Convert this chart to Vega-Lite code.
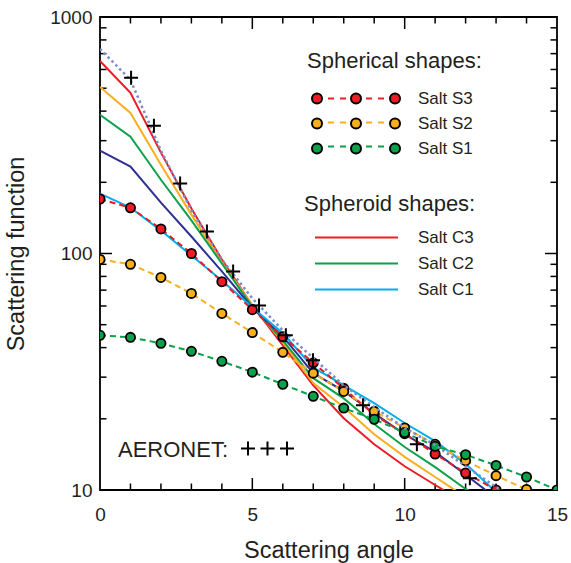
{
  "$schema": "https://vega.github.io/schema/vega-lite/v6.json",
  "width": 457,
  "height": 473,
  "autosize": "none",
  "padding": {"left": 100, "top": 17, "right": 14, "bottom": 73},
  "background": "white",
  "config": {
    "view": {"stroke": "black", "strokeWidth": 1.8},
    "font": "Liberation Sans",
    "axis": {
      "domain": false, "ticks": false, "grid": false,
      "labelOverlap": false, "labelFlush": false,
      "labelFont": "Liberation Sans", "labelFontSize": 19, "labelColor": "#231f20",
      "titleFont": "Liberation Sans", "titleFontSize": 23.5, "titleFontWeight": "normal", "titleColor": "#231f20"
    },
    "legend": {
      "titleFont": "Liberation Sans", "titleFontSize": 22, "titleFontWeight": "normal", "titleColor": "#231f20", "titleLimit": 400,
      "labelFont": "Liberation Sans", "labelFontSize": 17, "labelColor": "#231f20", "labelLimit": 300
    }
  },
  "datasets": {
    "xticks": [
      {"x": 1, "y": 10, "kind": "minor"}, {"x": 2, "y": 10, "kind": "minor"}, {"x": 3, "y": 10, "kind": "minor"}, {"x": 4, "y": 10, "kind": "minor"}, {"x": 5, "y": 10, "kind": "major"}, {"x": 6, "y": 10, "kind": "minor"}, {"x": 7, "y": 10, "kind": "minor"}, {"x": 8, "y": 10, "kind": "minor"}, {"x": 9, "y": 10, "kind": "minor"}, {"x": 10, "y": 10, "kind": "major"}, {"x": 11, "y": 10, "kind": "minor"}, {"x": 12, "y": 10, "kind": "minor"}, {"x": 13, "y": 10, "kind": "minor"}, {"x": 14, "y": 10, "kind": "minor"},
      {"x": 1, "y": 1000, "kind": "minor"}, {"x": 2, "y": 1000, "kind": "minor"}, {"x": 3, "y": 1000, "kind": "minor"}, {"x": 4, "y": 1000, "kind": "minor"}, {"x": 5, "y": 1000, "kind": "major"}, {"x": 6, "y": 1000, "kind": "minor"}, {"x": 7, "y": 1000, "kind": "minor"}, {"x": 8, "y": 1000, "kind": "minor"}, {"x": 9, "y": 1000, "kind": "minor"}, {"x": 10, "y": 1000, "kind": "major"}, {"x": 11, "y": 1000, "kind": "minor"}, {"x": 12, "y": 1000, "kind": "minor"}, {"x": 13, "y": 1000, "kind": "minor"}, {"x": 14, "y": 1000, "kind": "minor"}
    ],
    "yticks": [
      {"x": 0, "y": 20, "kind": "minor"}, {"x": 0, "y": 30, "kind": "minor"}, {"x": 0, "y": 40, "kind": "minor"}, {"x": 0, "y": 50, "kind": "minor"}, {"x": 0, "y": 60, "kind": "minor"}, {"x": 0, "y": 70, "kind": "minor"}, {"x": 0, "y": 80, "kind": "minor"}, {"x": 0, "y": 90, "kind": "minor"}, {"x": 0, "y": 100, "kind": "major"}, {"x": 0, "y": 200, "kind": "minor"}, {"x": 0, "y": 300, "kind": "minor"}, {"x": 0, "y": 400, "kind": "minor"}, {"x": 0, "y": 500, "kind": "minor"}, {"x": 0, "y": 600, "kind": "minor"}, {"x": 0, "y": 700, "kind": "minor"}, {"x": 0, "y": 800, "kind": "minor"}, {"x": 0, "y": 900, "kind": "minor"},
      {"x": 15, "y": 20, "kind": "minor"}, {"x": 15, "y": 30, "kind": "minor"}, {"x": 15, "y": 40, "kind": "minor"}, {"x": 15, "y": 50, "kind": "minor"}, {"x": 15, "y": 60, "kind": "minor"}, {"x": 15, "y": 70, "kind": "minor"}, {"x": 15, "y": 80, "kind": "minor"}, {"x": 15, "y": 90, "kind": "minor"}, {"x": 15, "y": 100, "kind": "major"}, {"x": 15, "y": 200, "kind": "minor"}, {"x": 15, "y": 300, "kind": "minor"}, {"x": 15, "y": 400, "kind": "minor"}, {"x": 15, "y": 500, "kind": "minor"}, {"x": 15, "y": 600, "kind": "minor"}, {"x": 15, "y": 700, "kind": "minor"}, {"x": 15, "y": 800, "kind": "minor"}, {"x": 15, "y": 900, "kind": "minor"}
    ],
    "spheroid": [
      {"k": "Salt C3", "x": 0, "y": 652}, {"k": "Salt C3", "x": 1, "y": 478}, {"k": "Salt C3", "x": 2, "y": 267}, {"k": "Salt C3", "x": 3, "y": 155}, {"k": "Salt C3", "x": 4, "y": 94.3}, {"k": "Salt C3", "x": 5, "y": 60.3}, {"k": "Salt C3", "x": 6, "y": 40.9}, {"k": "Salt C3", "x": 7, "y": 27.7}, {"k": "Salt C3", "x": 8, "y": 20.1}, {"k": "Salt C3", "x": 9, "y": 15.6}, {"k": "Salt C3", "x": 10, "y": 12.6}, {"k": "Salt C3", "x": 11, "y": 10.5}, {"k": "Salt C3", "x": 12, "y": 8.8},
      {"k": "Salt C2.5", "x": 0, "y": 506}, {"k": "Salt C2.5", "x": 1, "y": 393}, {"k": "Salt C2.5", "x": 2, "y": 237.5}, {"k": "Salt C2.5", "x": 3, "y": 146}, {"k": "Salt C2.5", "x": 4, "y": 91.6}, {"k": "Salt C2.5", "x": 5, "y": 60.5}, {"k": "Salt C2.5", "x": 6, "y": 42.1}, {"k": "Salt C2.5", "x": 7, "y": 28.3}, {"k": "Salt C2.5", "x": 8, "y": 22.4}, {"k": "Salt C2.5", "x": 9, "y": 17.2}, {"k": "Salt C2.5", "x": 10, "y": 13.8}, {"k": "Salt C2.5", "x": 11, "y": 11.35}, {"k": "Salt C2.5", "x": 12, "y": 9.34},
      {"k": "Salt C2", "x": 0, "y": 386}, {"k": "Salt C2", "x": 1, "y": 312}, {"k": "Salt C2", "x": 2, "y": 205}, {"k": "Salt C2", "x": 3, "y": 138}, {"k": "Salt C2", "x": 4, "y": 90.7}, {"k": "Salt C2", "x": 5, "y": 59.5}, {"k": "Salt C2", "x": 6, "y": 42.9}, {"k": "Salt C2", "x": 7, "y": 29.7}, {"k": "Salt C2", "x": 8, "y": 24.4}, {"k": "Salt C2", "x": 9, "y": 19.0}, {"k": "Salt C2", "x": 10, "y": 15.2}, {"k": "Salt C2", "x": 11, "y": 12.5}, {"k": "Salt C2", "x": 12, "y": 10.1}, {"k": "Salt C2", "x": 13, "y": 8.6},
      {"k": "Salt C1.5", "x": 0, "y": 272}, {"k": "Salt C1.5", "x": 1, "y": 233}, {"k": "Salt C1.5", "x": 2, "y": 164}, {"k": "Salt C1.5", "x": 3, "y": 118}, {"k": "Salt C1.5", "x": 4, "y": 84}, {"k": "Salt C1.5", "x": 5, "y": 59}, {"k": "Salt C1.5", "x": 6, "y": 44.6}, {"k": "Salt C1.5", "x": 7, "y": 31.2}, {"k": "Salt C1.5", "x": 8, "y": 26.2}, {"k": "Salt C1.5", "x": 9, "y": 21.1}, {"k": "Salt C1.5", "x": 10, "y": 17.2}, {"k": "Salt C1.5", "x": 11, "y": 14.5}, {"k": "Salt C1.5", "x": 12, "y": 11.6}, {"k": "Salt C1.5", "x": 13, "y": 9.25},
      {"k": "Salt C1", "x": 0, "y": 179}, {"k": "Salt C1", "x": 1, "y": 156.4}, {"k": "Salt C1", "x": 2, "y": 125}, {"k": "Salt C1", "x": 3, "y": 98.1}, {"k": "Salt C1", "x": 4, "y": 76.9}, {"k": "Salt C1", "x": 5, "y": 59.2}, {"k": "Salt C1", "x": 6, "y": 46}, {"k": "Salt C1", "x": 7, "y": 33}, {"k": "Salt C1", "x": 8, "y": 27.7}, {"k": "Salt C1", "x": 9, "y": 23.3}, {"k": "Salt C1", "x": 10, "y": 19.2}, {"k": "Salt C1", "x": 11, "y": 16.1}, {"k": "Salt C1", "x": 12, "y": 12.9}, {"k": "Salt C1", "x": 13, "y": 9.8}, {"k": "Salt C1", "x": 14, "y": 7.8}
    ],
    "spherical": [
      {"k": "Salt S3", "x": 0, "y": 170}, {"k": "Salt S3", "x": 1, "y": 156}, {"k": "Salt S3", "x": 2, "y": 127}, {"k": "Salt S3", "x": 3, "y": 100}, {"k": "Salt S3", "x": 4, "y": 76}, {"k": "Salt S3", "x": 5, "y": 57.9}, {"k": "Salt S3", "x": 6, "y": 44.5}, {"k": "Salt S3", "x": 7, "y": 34.5}, {"k": "Salt S3", "x": 8, "y": 26.9}, {"k": "Salt S3", "x": 9, "y": 20.8}, {"k": "Salt S3", "x": 10, "y": 17.3}, {"k": "Salt S3", "x": 11, "y": 14.2}, {"k": "Salt S3", "x": 12, "y": 11.8}, {"k": "Salt S3", "x": 13, "y": 10.0}, {"k": "Salt S3", "x": 14, "y": 8.6}, {"k": "Salt S3", "x": 15, "y": 7.5},
      {"k": "Salt S2", "x": 0, "y": 94.4}, {"k": "Salt S2", "x": 1, "y": 90}, {"k": "Salt S2", "x": 2, "y": 79.2}, {"k": "Salt S2", "x": 3, "y": 67.8}, {"k": "Salt S2", "x": 4, "y": 55.8}, {"k": "Salt S2", "x": 5, "y": 46.3}, {"k": "Salt S2", "x": 6, "y": 38.2}, {"k": "Salt S2", "x": 7, "y": 31.2}, {"k": "Salt S2", "x": 8, "y": 26.1}, {"k": "Salt S2", "x": 9, "y": 21.5}, {"k": "Salt S2", "x": 10, "y": 18.3}, {"k": "Salt S2", "x": 11, "y": 15.6}, {"k": "Salt S2", "x": 12, "y": 13.3}, {"k": "Salt S2", "x": 13, "y": 11.5}, {"k": "Salt S2", "x": 14, "y": 10.05}, {"k": "Salt S2", "x": 15, "y": 8.9},
      {"k": "Salt S1", "x": 0, "y": 45.1}, {"k": "Salt S1", "x": 1, "y": 44.2}, {"k": "Salt S1", "x": 2, "y": 41.7}, {"k": "Salt S1", "x": 3, "y": 38.6}, {"k": "Salt S1", "x": 4, "y": 35.0}, {"k": "Salt S1", "x": 5, "y": 31.5}, {"k": "Salt S1", "x": 6, "y": 28.0}, {"k": "Salt S1", "x": 7, "y": 24.9}, {"k": "Salt S1", "x": 8, "y": 22.2}, {"k": "Salt S1", "x": 9, "y": 19.9}, {"k": "Salt S1", "x": 10, "y": 17.5}, {"k": "Salt S1", "x": 11, "y": 15.3}, {"k": "Salt S1", "x": 12, "y": 14.1}, {"k": "Salt S1", "x": 13, "y": 12.7}, {"k": "Salt S1", "x": 14, "y": 11.35}, {"k": "Salt S1", "x": 15, "y": 10.0}
    ],
    "aeroline": [
      {"x": 0, "y": 733}, {"x": 1, "y": 542}, {"x": 2, "y": 272}, {"x": 3, "y": 152}, {"x": 4, "y": 94.3}, {"x": 5, "y": 64.6}, {"x": 6, "y": 47.3}, {"x": 7, "y": 36.1}, {"x": 8, "y": 27.7}, {"x": 9, "y": 22.4}, {"x": 10, "y": 18.3}, {"x": 11, "y": 15.5}, {"x": 12, "y": 12.6}, {"x": 13, "y": 10.3}, {"x": 14, "y": 8.5}
    ],
    "aeronet": [
      {"src": "AERONET", "x": 1.02, "y": 553}, {"src": "AERONET", "x": 1.77, "y": 347}, {"src": "AERONET", "x": 2.63, "y": 197.5}, {"src": "AERONET", "x": 3.51, "y": 123.8}, {"src": "AERONET", "x": 4.37, "y": 84}, {"src": "AERONET", "x": 5.22, "y": 60.3}, {"src": "AERONET", "x": 6.1, "y": 45.1}, {"src": "AERONET", "x": 6.99, "y": 35.4}, {"src": "AERONET", "x": 8.63, "y": 22.8}, {"src": "AERONET", "x": 10.4, "y": 15.6}, {"src": "AERONET", "x": 12.14, "y": 11.2}
    ]
  },
  "encoding": {
    "x": {"field": "x", "type": "quantitative", "scale": {"type": "linear", "domain": [0, 15], "nice": false, "zero": false},
      "axis": {"orient": "bottom", "values": [0, 5, 10, 15], "format": "d", "labelPadding": 15, "title": "Scattering angle", "titlePadding": 14}},
    "y": {"field": "y", "type": "quantitative", "scale": {"type": "log", "domain": [10, 1000], "nice": false},
      "axis": {"orient": "left", "values": [10, 100, 1000], "format": "d", "labelPadding": 8, "title": "Scattering function", "titlePadding": 21}}
  },
  "layer": [
    {
      "data": {"name": "xticks"},
      "mark": {"type": "point", "shape": "M 0 -1 L 0 1", "filled": false, "stroke": "black", "strokeWidth": 1.5, "opacity": 1, "clip": true},
      "encoding": {
        "size": {"field": "kind", "type": "nominal", "scale": {"type": "ordinal", "domain": ["major", "minor"], "range": [576, 169]}, "legend": null}
      }
    },
    {
      "data": {"name": "yticks"},
      "mark": {"type": "tick", "orient": "horizontal", "color": "black", "thickness": 1.5, "opacity": 1, "clip": true},
      "encoding": {
        "size": {"field": "kind", "type": "nominal", "scale": {"type": "ordinal", "domain": ["major", "minor"], "range": [24, 13]}, "legend": null}
      }
    },
    {
      "data": {"name": "spheroid"},
      "mark": {"type": "line", "clip": true, "strokeWidth": 2},
      "encoding": {
        "stroke": {"field": "k", "type": "nominal",
          "scale": {"domain": ["Salt C3", "Salt C2.5", "Salt C2", "Salt C1.5", "Salt C1"], "range": ["#ED1C24", "#F9AE1D", "#0BA14B", "#2E3192", "#00AEEF"]},
          "legend": {"orient": "none", "legendX": 204, "legendY": 177, "padding": 0, "title": "Spheroid shapes:", "values": ["Salt C3", "Salt C2", "Salt C1"],
            "symbolType": "M -8.3 0 L 8.3 0", "symbolSize": 100, "symbolStrokeWidth": 2, "symbolOffset": 44, "labelOffset": 53, "titlePadding": 13, "rowPadding": 8}}
      }
    },
    {
      "data": {"name": "spherical"},
      "mark": {"type": "line", "clip": true, "strokeWidth": 2, "strokeDash": [6, 4]},
      "encoding": {
        "stroke": {"field": "k", "type": "nominal",
          "scale": {"domain": ["Salt S3", "Salt S2", "Salt S1"], "range": ["#ED1C24", "#F9AE1D", "#0BA14B"]},
          "legend": {"orient": "none", "legendX": 207, "legendY": 73, "padding": 0, "title": null, "labelExpr": "''",
            "symbolType": "M -5.6 0 L -4.4 0 M -3.2 0 L -2 0 M 2 0 L 3.2 0 M 4.4 0 L 5.6 0", "symbolSize": 100, "symbolStrokeWidth": 2, "symbolOffset": 40.5, "labelOffset": 53.5, "rowPadding": 6}}
      }
    },
    {
      "data": {"name": "spherical"},
      "mark": {"type": "point", "shape": "circle", "filled": true, "size": 85, "stroke": "black", "strokeWidth": 1.8, "opacity": 1, "clip": true},
      "encoding": {
        "fill": {"field": "k", "type": "nominal",
          "scale": {"domain": ["Salt S3", "Salt S2", "Salt S1"], "range": ["#ED1C24", "#F9AE1D", "#0BA14B"]},
          "legend": {"orient": "none", "legendX": 207, "legendY": 34, "padding": 0, "title": "Spherical shapes:",
            "symbolType": "M -6.8 0 A 1 1 0 1 1 -8.8 0 A 1 1 0 1 1 -6.8 0 Z M 1 0 A 1 1 0 1 1 -1 0 A 1 1 0 1 1 1 0 Z M 8.8 0 A 1 1 0 1 1 6.8 0 A 1 1 0 1 1 8.8 0 Z",
            "symbolSize": 100, "symbolStrokeColor": "black", "symbolStrokeWidth": 2, "symbolOffset": 40.5, "labelOffset": 53.5, "titlePadding": 17, "rowPadding": 6}}
      }
    },
    {
      "data": {"name": "aeroline"},
      "mark": {"type": "line", "clip": true, "strokeWidth": 2.5, "strokeDash": [2.5, 3], "stroke": "#7B8CC6"},
      "encoding": {}
    },
    {
      "data": {"name": "aeronet"},
      "mark": {"type": "point", "filled": false, "shape": "M -1 0 L 1 0 M 0 -1 L 0 1", "strokeWidth": 2, "size": 196, "opacity": 1, "clip": true},
      "encoding": {
        "stroke": {"field": "src", "type": "nominal",
          "scale": {"domain": ["AERONET"], "range": ["black"]},
          "legend": {"orient": "none", "legendX": 18, "legendY": 423, "padding": 0, "title": "AERONET:", "titleOrient": "left", "titlePadding": 8, "labelExpr": "''",
            "symbolType": "M -5.3 0 L -2.5 0 M -3.9 -1.4 L -3.9 1.4 M -1.4 0 L 1.4 0 M 0 -1.4 L 0 1.4 M 2.5 0 L 5.3 0 M 3.9 -1.4 L 3.9 1.4",
            "symbolSize": 100, "symbolStrokeWidth": 2, "symbolOffset": 22}}
      }
    }
  ],
  "resolve": {"scale": {"stroke": "independent", "size": "independent"}}
}
